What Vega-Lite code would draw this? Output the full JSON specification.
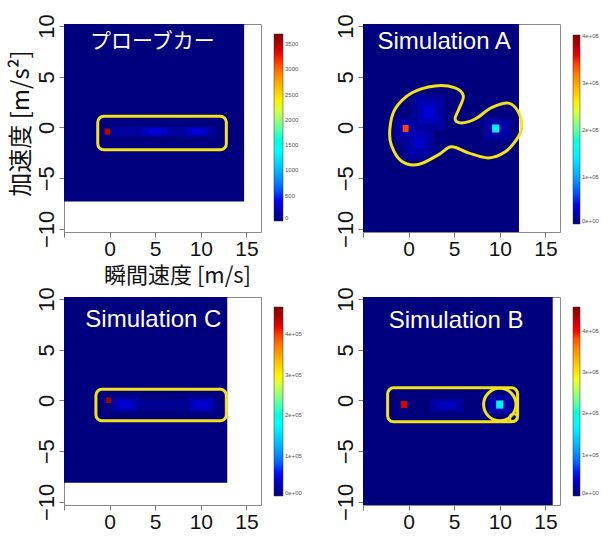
{
  "$schema": "https://vega.github.io/schema/vega-lite/v6.json",
  "background": "white",
  "padding": {"left": 8, "top": 13, "right": 5, "bottom": 5},
  "columns": 2,
  "spacing": {"row": 65, "column": 102},
  "bounds": "flush",
  "align": "all",
  "resolve": {"scale": {"color": "independent"}, "legend": {"color": "independent"}},
  "datasets": {
    "probe_cells": [
      {"x": -5.5, "x2": 14.75, "y": -7.3, "y2": 10.5, "v": 0},
      {"x": 0.3, "x2": 11.6, "y": -0.85, "y2": 0.05, "v": 120},
      {"x": 3.6, "x2": 6.4, "y": -0.8, "y2": 0.0, "v": 230},
      {"x": 8.4, "x2": 10.7, "y": -0.8, "y2": 0.0, "v": 250},
      {"x": 4.3, "x2": 5.7, "y": -0.65, "y2": -0.15, "v": 330},
      {"x": 9.0, "x2": 10.1, "y": -0.65, "y2": -0.15, "v": 360},
      {"x": -0.55, "x2": 0.05, "y": -0.7, "y2": -0.1, "v": 3450}
    ],
    "probe_box": [{"x": -1.3, "x2": 12.8, "y": -2.2, "y2": 1.1}],
    "probe_label": [{"label": "プローブカー", "x": 4.7, "y": 8.4}],
    "a_cells": [
      {"x": -5.5, "x2": 12.1, "y": -10.6, "y2": 10.5, "v": 0},
      {"x": 0.4, "x2": 4.0, "y": -0.3, "y2": 3.2, "v": 11000},
      {"x": -0.6, "x2": 2.8, "y": -3.2, "y2": 0.2, "v": 10000},
      {"x": -1.6, "x2": 1.2, "y": -1.4, "y2": 1.0, "v": 10000},
      {"x": 8.2, "x2": 11.4, "y": -1.4, "y2": 1.0, "v": 10000},
      {"x": 1.0, "x2": 3.4, "y": 0.3, "y2": 2.7, "v": 22000},
      {"x": 0.0, "x2": 2.2, "y": -2.6, "y2": -0.3, "v": 20000},
      {"x": -1.1, "x2": 0.7, "y": -0.9, "y2": 0.6, "v": 20000},
      {"x": 8.7, "x2": 10.9, "y": -0.9, "y2": 0.6, "v": 18000},
      {"x": 1.6, "x2": 2.8, "y": 0.9, "y2": 2.1, "v": 36000},
      {"x": 0.6, "x2": 1.7, "y": -2.0, "y2": -0.9, "v": 30000},
      {"x": -0.65, "x2": 0.0, "y": -0.45, "y2": 0.25, "v": 340000},
      {"x": 9.15, "x2": 9.95, "y": -0.5, "y2": 0.3, "v": 140000}
    ],
    "a_outline": [
      {"i": 1, "x": -2.05, "y": -0.1},
      {"i": 2, "x": -1.5, "y": 1.8},
      {"i": 3, "x": 0.33, "y": 3.4},
      {"i": 4, "x": 2.9, "y": 4.1},
      {"i": 5, "x": 5.1, "y": 3.9},
      {"i": 6, "x": 6.0, "y": 3.1},
      {"i": 7, "x": 5.5, "y": 1.8},
      {"i": 8, "x": 5.1, "y": 0.84},
      {"i": 9, "x": 5.8, "y": 0.45},
      {"i": 10, "x": 7.3, "y": 0.84},
      {"i": 11, "x": 9.1, "y": 1.95},
      {"i": 12, "x": 10.95, "y": 2.4},
      {"i": 13, "x": 12.05, "y": 1.5},
      {"i": 14, "x": 12.4, "y": 0.0},
      {"i": 15, "x": 11.9, "y": -1.1},
      {"i": 16, "x": 10.6, "y": -2.4},
      {"i": 17, "x": 8.75, "y": -3.0},
      {"i": 18, "x": 6.55, "y": -2.5},
      {"i": 19, "x": 4.7, "y": -1.9},
      {"i": 20, "x": 3.25, "y": -2.7},
      {"i": 21, "x": 1.05, "y": -3.65},
      {"i": 22, "x": -0.8, "y": -3.3},
      {"i": 23, "x": -1.9, "y": -1.7}
    ],
    "a_label": [{"label": "Simulation A", "x": 3.9, "y": 8.4}],
    "c_cells": [
      {"x": -5.5, "x2": 12.9, "y": -8.1, "y2": 10.5, "v": 0},
      {"x": 0.5, "x2": 11.5, "y": -0.9, "y2": 0.1, "v": 10000},
      {"x": 0.3, "x2": 3.1, "y": -1.1, "y2": 0.3, "v": 22000},
      {"x": 8.7, "x2": 11.5, "y": -1.1, "y2": 0.3, "v": 22000},
      {"x": 0.9, "x2": 2.5, "y": -0.8, "y2": 0.0, "v": 38000},
      {"x": 9.3, "x2": 10.9, "y": -0.8, "y2": 0.0, "v": 38000},
      {"x": -0.4, "x2": 0.15, "y": -0.25, "y2": 0.3, "v": 450000}
    ],
    "c_box": [{"x": -1.5, "x2": 12.8, "y": -2.0, "y2": 1.1}],
    "c_label": [{"label": "Simulation C", "x": 4.8, "y": 7.9}],
    "b_cells": [
      {"x": -5.5, "x2": 15.8, "y": -10.6, "y2": 10.5, "v": 0},
      {"x": 2.4, "x2": 6.0, "y": -1.1, "y2": 0.2, "v": 16000},
      {"x": 3.2, "x2": 5.2, "y": -0.8, "y2": -0.1, "v": 30000},
      {"x": 8.8, "x2": 11.2, "y": -1.3, "y2": 0.5, "v": 18000},
      {"x": -0.85, "x2": -0.15, "y": -0.75, "y2": -0.05, "v": 420000},
      {"x": 9.6, "x2": 10.4, "y": -0.8, "y2": 0.0, "v": 160000}
    ],
    "b_box": [{"x": -2.3, "x2": 11.95, "y": -2.1, "y2": 1.25}],
    "b_circle": [{"x": 10.0, "y": -0.4}],
    "b_loop": [{"x": 11.5, "y": -1.7}],
    "b_label": [{"label": "Simulation B", "x": 5.2, "y": 7.8}]
  },
  "concat": [
    {
      "width": 197, "height": 208,
      "encoding": {
        "x": {"field": "x", "type": "quantitative", "scale": {"domain": [-5, 16.6], "nice": false, "zero": false},
              "axis": {"values": [-5, 0, 5, 10, 15], "labelExpr": "datum.value == -5 ? '' : datum.label", "title": "瞬間速度 [m/s]", "titleX": 113, "titleFontSize": 22, "titlePadding": 6}},
        "x2": {"field": "x2"},
        "y": {"field": "y", "type": "quantitative", "scale": {"domain": [-10.3, 10.2], "nice": false, "zero": false},
              "axis": {"values": [-10, -5, 0, 5, 10], "title": "加速度 [m/s²]", "titleFontSize": 24, "titleX": -43, "titleY": 99, "titleAngle": 270, "titleAlign": "center", "titleBaseline": "middle"}},
        "y2": {"field": "y2"}
      },
      "layer": [
        {"data": {"name": "probe_cells"}, "mark": {"type": "rect", "clip": true},
         "encoding": {"color": {"field": "v", "type": "quantitative",
           "scale": {"domain": [0, 462.5, 1387.5, 2312.5, 3237.5, 3700], "range": ["#00007F", "#0000FF", "#00FFFF", "#FFFF00", "#FF0000", "#7F0000"]},
           "legend": {"title": null, "values": [0, 500, 1000, 1500, 2000, 2500, 3000, 3500], "format": "d", "legendX": 210, "legendY": 10, "gradientLength": 187, "gradientThickness": 9}}}},
        {"data": {"name": "probe_box"}, "mark": {"type": "rect", "filled": false, "stroke": "#F2E21C", "strokeWidth": 3, "cornerRadius": 6}},
        {"data": {"name": "probe_label"}, "mark": {"type": "text", "color": "white", "font": "Noto Sans CJK JP", "fontSize": 21}, "encoding": {"text": {"field": "label"}}}
      ]
    },
    {
      "width": 197, "height": 208,
      "layer": [
        {"data": {"name": "a_cells"}, "mark": {"type": "rect", "clip": true},
         "encoding": {
           "x": {"field": "x", "type": "quantitative", "scale": {"domain": [-5, 16.6], "nice": false, "zero": false},
                 "axis": {"values": [-5, 0, 5, 10, 15], "labelExpr": "datum.value == -5 ? '' : datum.label", "title": null}},
           "x2": {"field": "x2"},
           "y": {"field": "y", "type": "quantitative", "scale": {"domain": [-10.3, 10.2], "nice": false, "zero": false},
                 "axis": {"values": [-10, -5, 0, 5, 10], "title": null}},
           "y2": {"field": "y2"},
           "color": {"field": "v", "type": "quantitative",
           "scale": {"domain": [0, 50250, 150750, 251250, 351750, 402000], "range": ["#00007F", "#0000FF", "#00FFFF", "#FFFF00", "#FF0000", "#7F0000"]},
           "legend": {"title": null, "values": [0, 100000, 200000, 300000, 400000], "labelExpr": "datum.value == 0 ? '0e+00' : format(datum.value / 100000, 'd') + 'e+05'", "legendX": 210, "legendY": 11, "gradientLength": 189, "gradientThickness": 7}}}},
        {"data": {"name": "a_outline"}, "mark": {"type": "line", "interpolate": "cardinal-closed", "color": "#F2E21C", "strokeWidth": 3},
         "encoding": {
           "x": {"field": "x", "type": "quantitative", "scale": {"domain": [-5, 16.6], "nice": false, "zero": false},
                 "axis": {"values": [-5, 0, 5, 10, 15], "labelExpr": "datum.value == -5 ? '' : datum.label", "title": null}},
           "y": {"field": "y", "type": "quantitative", "scale": {"domain": [-10.3, 10.2], "nice": false, "zero": false},
                 "axis": {"values": [-10, -5, 0, 5, 10], "title": null}},
           "order": {"field": "i", "type": "quantitative"}}},
        {"data": {"name": "a_label"}, "mark": {"type": "text", "color": "white", "font": "Liberation Sans", "fontSize": 24},
         "encoding": {
           "x": {"field": "x", "type": "quantitative", "scale": {"domain": [-5, 16.6], "nice": false, "zero": false},
                 "axis": {"values": [-5, 0, 5, 10, 15], "labelExpr": "datum.value == -5 ? '' : datum.label", "title": null}},
           "y": {"field": "y", "type": "quantitative", "scale": {"domain": [-10.3, 10.2], "nice": false, "zero": false},
                 "axis": {"values": [-10, -5, 0, 5, 10], "title": null}},
           "text": {"field": "label"}}}
      ]
    },
    {
      "width": 197, "height": 208,
      "encoding": {
        "x": {"field": "x", "type": "quantitative", "scale": {"domain": [-5, 16.6], "nice": false, "zero": false},
              "axis": {"values": [-5, 0, 5, 10, 15], "labelExpr": "datum.value == -5 ? '' : datum.label", "title": null}},
        "x2": {"field": "x2"},
        "y": {"field": "y", "type": "quantitative", "scale": {"domain": [-10.3, 10.2], "nice": false, "zero": false},
              "axis": {"values": [-10, -5, 0, 5, 10], "title": null}},
        "y2": {"field": "y2"}
      },
      "layer": [
        {"data": {"name": "c_cells"}, "mark": {"type": "rect", "clip": true},
         "encoding": {"color": {"field": "v", "type": "quantitative",
           "scale": {"domain": [0, 58375, 175125, 291875, 408625, 467000], "range": ["#00007F", "#0000FF", "#00FFFF", "#FFFF00", "#FF0000", "#7F0000"]},
           "legend": {"title": null, "values": [0, 100000, 200000, 300000, 400000], "labelExpr": "datum.value == 0 ? '0e+00' : format(datum.value / 100000, 'd') + 'e+05'", "legendX": 210, "legendY": 10, "gradientLength": 189, "gradientThickness": 9}}}},
        {"data": {"name": "c_box"}, "mark": {"type": "rect", "filled": false, "stroke": "#F2E21C", "strokeWidth": 3, "cornerRadius": 6}},
        {"data": {"name": "c_label"}, "mark": {"type": "text", "color": "white", "font": "Liberation Sans", "fontSize": 24}, "encoding": {"text": {"field": "label"}}}
      ]
    },
    {
      "width": 197, "height": 208,
      "encoding": {
        "x": {"field": "x", "type": "quantitative", "scale": {"domain": [-5, 16.6], "nice": false, "zero": false},
              "axis": {"values": [-5, 0, 5, 10, 15], "labelExpr": "datum.value == -5 ? '' : datum.label", "title": null}},
        "x2": {"field": "x2"},
        "y": {"field": "y", "type": "quantitative", "scale": {"domain": [-10.3, 10.2], "nice": false, "zero": false},
              "axis": {"values": [-10, -5, 0, 5, 10], "title": null}},
        "y2": {"field": "y2"}
      },
      "layer": [
        {"data": {"name": "b_cells"}, "mark": {"type": "rect", "clip": true},
         "encoding": {"color": {"field": "v", "type": "quantitative",
           "scale": {"domain": [0, 57125, 171375, 285625, 399875, 457000], "range": ["#00007F", "#0000FF", "#00FFFF", "#FFFF00", "#FF0000", "#7F0000"]},
           "legend": {"title": null, "values": [0, 100000, 200000, 300000, 400000], "labelExpr": "datum.value == 0 ? '0e+00' : format(datum.value / 100000, 'd') + 'e+05'", "legendX": 210, "legendY": 10, "gradientLength": 189, "gradientThickness": 7}}}},
        {"data": {"name": "b_box"}, "mark": {"type": "rect", "filled": false, "stroke": "#F2E21C", "strokeWidth": 3, "cornerRadius": 6}},
        {"data": {"name": "b_circle"}, "mark": {"type": "point", "shape": "circle", "filled": false, "size": 1050, "stroke": "#F2E21C", "strokeWidth": 3, "opacity": 1}},
        {"data": {"name": "b_loop"}, "mark": {"type": "point", "shape": "circle", "filled": false, "size": 60, "stroke": "#F2E21C", "strokeWidth": 2.5, "opacity": 1}},
        {"data": {"name": "b_label"}, "mark": {"type": "text", "color": "white", "font": "Liberation Sans", "fontSize": 24}, "encoding": {"text": {"field": "label"}}}
      ]
    }
  ],
  "config": {
    "view": {"stroke": "#8a8a8a", "strokeWidth": 1},
    "axis": {"domain": false, "grid": false, "ticks": true, "tickColor": "#777777", "tickSize": 5, "labelColor": "#111111", "labelFont": "Liberation Sans", "labelFontSize": 22, "labelPadding": 1, "titleFont": "Noto Sans CJK JP", "titleFontWeight": "normal", "titleColor": "#111111"},
    "axisX": {"labelFontSize": 21},
    "axisY": {"labelAngle": 270, "labelAlign": "center", "labelBaseline": "bottom"},
    "legend": {"orient": "none", "direction": "vertical", "labelFontSize": 6, "labelColor": "#555555", "labelFont": "Liberation Sans", "labelOffset": 6, "labelOverlap": false, "gradientStrokeColor": "#333333", "gradientStrokeWidth": 0.5}
  }
}
